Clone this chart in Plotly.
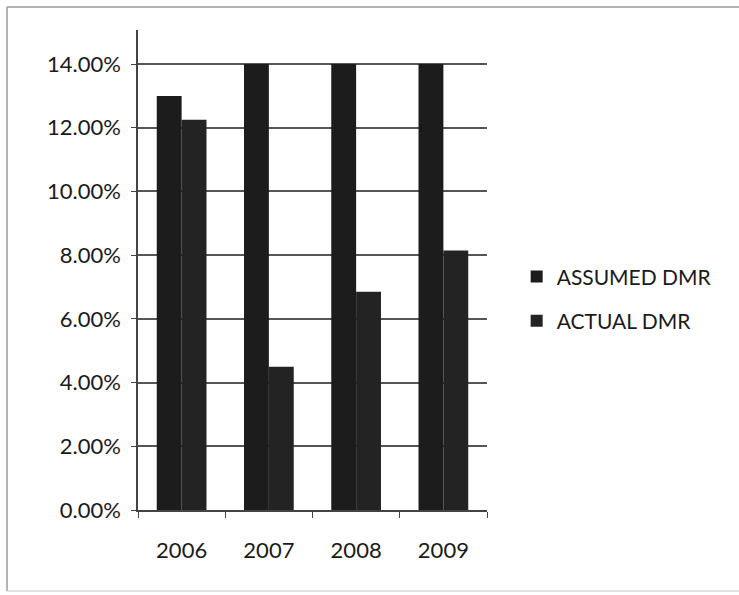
import plotly.graph_objects as go

years = ["2006", "2007", "2008", "2009"]
assumed_dmr = [0.130, 0.140, 0.140, 0.140]
actual_dmr = [0.1225, 0.045, 0.0685, 0.0815]
y_ticks = [0.0, 0.02, 0.04, 0.06, 0.08, 0.10, 0.12, 0.14]

bar_color = "#1c1c1c"
font_family = "Lato, Open Sans, sans-serif"

# plot area in pixels: x 138..487, y 30..510
plot_w, plot_h = 349, 480
frame_left = (7 - 138) / plot_w
frame_right = (739 - 138) / plot_w
frame_top = (510 - 7) / plot_h
frame_bottom = (510 - 591) / plot_h
frame_line = dict(color="#9a9a9a", width=1.5)

fig = go.Figure()
fig.add_trace(go.Bar(name="ASSUMED DMR", x=years, y=assumed_dmr, legendgroup="a",
                     marker=dict(color=bar_color, line=dict(width=0))))
fig.add_trace(go.Bar(name="ACTUAL DMR", x=years, y=actual_dmr, legendgroup="b",
                     marker=dict(color="#232323", line=dict(width=0))))

fig.update_layout(
    width=739, height=595,
    barmode="group", bargap=0.43, bargroupgap=0.0,
    paper_bgcolor="white", plot_bgcolor="white",
    margin=dict(l=138, r=252, t=30, b=85),
    font=dict(family=font_family, size=22, color="#1a1a1a"),
    showlegend=True,
    legend=dict(x=1.085, y=0.44, xanchor="left", yanchor="middle",
                font=dict(size=21, color="#1a1a1a"),
                itemwidth=30, tracegroupgap=14,
                bgcolor="rgba(0,0,0,0)"),
    xaxis=dict(type="category", tickson="boundaries", ticks="outside",
               ticklen=6, tickcolor="#444", showline=True, linecolor="#444",
               linewidth=1.5, showgrid=False, tickfont=dict(size=22),
               ticklabelstandoff=20),
    yaxis=dict(range=[0, 0.1507], tickvals=y_ticks, tickformat=".2%",
               ticks="outside", ticklen=5, tickcolor="#444",
               showline=True, linecolor="#444", linewidth=1.5,
               showgrid=True, gridcolor="#555", gridwidth=1.5,
               zeroline=False, tickfont=dict(size=22), ticklabelstandoff=6),
    shapes=[
        dict(type="line", xref="paper", yref="paper", x0=frame_left, x1=frame_left,
             y0=frame_bottom, y1=frame_top, line=frame_line, layer="below"),
        dict(type="line", xref="paper", yref="paper", x0=frame_left, x1=frame_right,
             y0=frame_top, y1=frame_top, line=frame_line, layer="below"),
        dict(type="line", xref="paper", yref="paper", x0=frame_left, x1=frame_right,
             y0=frame_bottom, y1=frame_bottom, line=dict(color="#c8c8c8", width=1),
             layer="below"),
    ],
)

fig.write_html("out.html")
